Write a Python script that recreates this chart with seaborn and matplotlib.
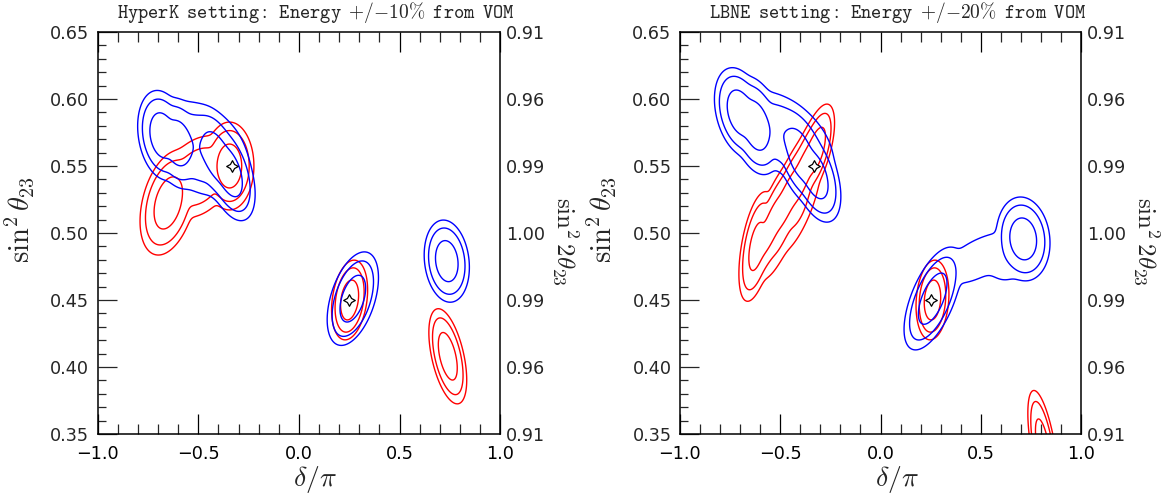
import numpy as np
import matplotlib
matplotlib.use("Agg")
import matplotlib.pyplot as plt
import seaborn as sns
import pandas as pd

sns.set_theme(style="ticks")
plt.rcParams['font.family'] = ['DejaVu Sans']
plt.rcParams['mathtext.fontset'] = 'cm'

# ---------------- data ----------------
panel_titles = [
    r"$\mathtt{HyperK\enspace setting{:}\enspace Energy\enspace {+}/{-}10\%\enspace from\enspace VOM}$",
    r"$\mathtt{LBNE\enspace setting{:}\enspace Energy\enspace {+}/{-}20\%\enspace from\enspace VOM}$",
]
# confidence levels (delta chi^2)
cl_levels = [2.30, 5.99, 9.21]

# best-fit (true) points
best_delta = [-1/3, 0.25]
best_s23 = [0.55, 0.45]

# chi^2 valley components: centre, widths, correlation, depth offset
# HyperK, red
hk_red_x0 = [-0.345, -0.650, -0.500, 0.252, 0.740]
hk_red_y0 = [0.550, 0.5224, 0.542, 0.450, 0.408]
hk_red_sx = [0.040, 0.046, 0.070, 0.0295, 0.031]
hk_red_sy = [0.0108, 0.0128, 0.012, 0.0098, 0.0117]
hk_red_rho = [0.0, 0.35, 0.3, 0.25, -0.5]
hk_red_off = [0.0, 0.0, 2.8, 0.0, 0.0]
# HyperK, blue
hk_blue_x0 = [-0.680, -0.600, -0.410, -0.345, -0.490, 0.268, 0.735]
hk_blue_y0 = [0.573, 0.567, 0.557, 0.545, 0.563, 0.451, 0.479]
hk_blue_sx = [0.040, 0.040, 0.042, 0.042, 0.090, 0.042, 0.037]
hk_blue_sy = [0.011, 0.011, 0.0118, 0.0118, 0.0135, 0.0115, 0.0101]
hk_blue_rho = [-0.2, -0.2, -0.45, -0.45, -0.3, 0.45, -0.15]
hk_blue_off = [0.0, 0.0, 0.0, 0.0, 2.5, 0.0, 0.0]
# LBNE, red
lb_red_x0 = [-0.618, -0.545, -0.465, -0.385, -0.320, -0.500, -0.400, 0.259, 0.81]
lb_red_y0 = [0.490, 0.505, 0.525, 0.545, 0.562, 0.497, 0.518, 0.450, 0.340]
lb_red_sx = [0.030, 0.045, 0.045, 0.045, 0.030, 0.050, 0.050, 0.027, 0.025]
lb_red_sy = [0.014, 0.0165, 0.0165, 0.0165, 0.011, 0.016, 0.016, 0.0098, 0.014]
lb_red_rho = [0.5, 0.8, 0.8, 0.8, 0.6, 0.8, 0.8, 0.15, -0.6]
lb_red_off = [0.7, 0.7, 0.7, 0.5, 0.0, 5.5, 5.5, 0.0, 0.0]
# LBNE, blue
lb_blue_x0 = [-0.700, -0.620, -0.400, -0.325, -0.470, 0.260, 0.711, 0.490, 0.620]
lb_blue_y0 = [0.590, 0.580, 0.558, 0.543, 0.572, 0.451, 0.4956, 0.481, 0.480]
lb_blue_sx = [0.042, 0.042, 0.042, 0.042, 0.090, 0.047, 0.044, 0.120, 0.060]
lb_blue_sy = [0.011, 0.012, 0.012, 0.0115, 0.013, 0.0126, 0.0103, 0.0125, 0.010]
lb_blue_rho = [-0.3, -0.3, -0.45, -0.45, -0.5, 0.6, -0.1, 0.6, 0.0]
lb_blue_off = [0.0, 0.0, 0.0, 0.0, 2.5, 0.0, 0.0, 7.0, 7.0]

s23_ticks = [0.35, 0.40, 0.45, 0.50, 0.55, 0.60, 0.65]
s23_labels = ["0.35", "0.40", "0.45", "0.50", "0.55", "0.60", "0.65"]
s2_2_labels = ["0.91", "0.96", "0.99", "1.00", "0.99", "0.96", "0.91"]
delta_ticks = [-1.0, -0.5, 0.0, 0.5, 1.0]
delta_labels = ["\u22121.0", "\u22120.5", "0.0", "0.5", "1.0"]

families = [
    [(hk_red_x0, hk_red_y0, hk_red_sx, hk_red_sy, hk_red_rho, hk_red_off, "#ff0000"),
     (hk_blue_x0, hk_blue_y0, hk_blue_sx, hk_blue_sy, hk_blue_rho, hk_blue_off, "#0000ff")],
    [(lb_red_x0, lb_red_y0, lb_red_sx, lb_red_sy, lb_red_rho, lb_red_off, "#ff0000"),
     (lb_blue_x0, lb_blue_y0, lb_blue_sx, lb_blue_sy, lb_blue_rho, lb_blue_off, "#0000ff")],
]

# ---------------- field ----------------
gx = np.linspace(-1.05, 1.05, 700)
gy = np.linspace(0.28, 0.70, 700)
GX, GY = np.meshgrid(gx, gy)
T = 0.5


def chi2_field(x0, y0, sx, sy, rho, off):
    terms = []
    for a, b, c, d, r, o in zip(x0, y0, sx, sy, rho, off):
        u = (GX - a) / c
        v = (GY - b) / d
        q = (u * u - 2 * r * u * v + v * v) / (1 - r * r) + o
        terms.append(-q / (2 * T))
    terms = np.array(terms)
    m = terms.max(axis=0)
    return -2 * T * (m + np.log(np.exp(terms - m).sum(axis=0)))


fig = plt.figure(figsize=(11.66, 4.93), dpi=100)
axes_boxes = [[97.7 / 1166, 59 / 493, 402.4 / 1166, 402 / 493],
              [679.8 / 1166, 59 / 493, 401.4 / 1166, 402 / 493]]

for i, box in enumerate(axes_boxes):
    ax = fig.add_axes(box)
    for (x0, y0, sx, sy, rho, off, col) in families[i]:
        Z = chi2_field(x0, y0, sx, sy, rho, off)
        ax.contour(GX, GY, Z, levels=cl_levels, colors=col, linewidths=1.0)
    pts = pd.DataFrame({"delta": best_delta, "s23": best_s23})
    sns.scatterplot(data=pts, x="delta", y="s23", ax=ax, marker=(4, 1, 0), s=70,
                    color="white", edgecolor="black", linewidth=0.9, zorder=5)
    ax.set_xlim(-1, 1)
    ax.set_ylim(0.35, 0.65)
    ax.set_xticks(delta_ticks)
    ax.set_xticklabels(delta_labels)
    ax.set_xticks(np.arange(-1.0, 1.001, 0.1), minor=True)
    ax.set_yticks(s23_ticks)
    ax.set_yticklabels(s23_labels)
    ax.set_yticks(np.arange(0.35, 0.6501, 0.01), minor=True)
    ax.set_xlabel("")
    ax.set_ylabel("")
    ax.tick_params(axis="x", which="major", direction="in", length=14.4, width=0.9,
                   top=True, bottom=True, labelsize=12.7, pad=8, colors="black")
    ax.tick_params(axis="x", which="minor", direction="in", length=7.2, width=0.9,
                   top=True, bottom=True)
    ax.tick_params(axis="y", which="major", direction="in", length=13.9, width=0.9,
                   left=True, right=True, labelsize=12.7, pad=6)
    ax.tick_params(axis="y", which="minor", direction="in", length=5.9, width=0.9,
                   left=True, right=True)
    for sp in ax.spines.values():
        sp.set_linewidth(1.1)
        sp.set_color("black")
        sp.set_visible(True)
    ax.set_facecolor("white")
    # right-hand axis in sin^2 2theta
    ax2 = ax.twinx()
    ax2.set_ylim(0.35, 0.65)
    ax2.set_yticks(s23_ticks)
    ax2.set_yticklabels(s2_2_labels)
    ax2.tick_params(axis="y", which="major", direction="in", length=0, labelsize=12.7, pad=4.3)
    ax2.tick_params(axis="y", which="minor", length=0)
    ax2.set_ylabel("")
    for sp in ax2.spines.values():
        sp.set_visible(False)
    ax.text(0.542, 1.049, panel_titles[i], transform=ax.transAxes, ha="center",
            va="center", fontsize=14)
    ax.text(-0.193, 0.534, r"$\sin^2\theta_{23}$", transform=ax.transAxes,
            ha="center", va="center", rotation=90, fontsize=20.5)
    ax.text(1.16, 0.478, r"$\sin^2 2\theta_{23}$", transform=ax.transAxes,
            ha="center", va="center", rotation=270, fontsize=18)
    ax.text(0.541, -0.114, r"$\delta/\pi$", transform=ax.transAxes,
            ha="center", va="center", fontsize=20)

fig.savefig("out.png", dpi=100, facecolor="white")
